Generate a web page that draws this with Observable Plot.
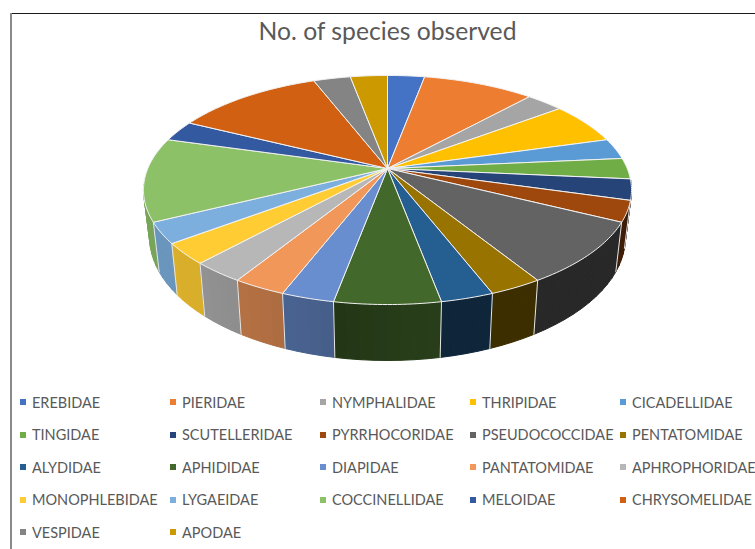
<!DOCTYPE html>
<html>
<head>
<meta charset="utf-8">
<script src="https://cdn.jsdelivr.net/npm/d3@7"></script>
<script src="https://cdn.jsdelivr.net/npm/@observablehq/plot@0.6"></script>
<style>
  html, body { margin: 0; padding: 0; background: #fff; }
  #frame { position: relative; width: 755px; height: 549px; overflow: hidden; font-family: Lato, sans-serif; }
  #rule-top { position: absolute; left: 10px; top: 13px; width: 745px; height: 1px; background: #1a1a1a; }
  #rule-left { position: absolute; left: 10px; top: 13px; width: 2px; height: 536px; background: #8a8a8a; }
  #title { position: absolute; left: 0; width: 775px; top: 15px; text-align: center; font-size: 24.7px; line-height: 32px; color: #595959; }
  #chart { position: absolute; left: 0; top: 50px; }
  #legend { position: absolute; left: 20px; top: 386px; display: grid; grid-template-columns: repeat(5, 150px); grid-auto-rows: 32.5px; width: 735px; }
  .entry { display: flex; align-items: center; font-size: 14.5px; color: #595959; white-space: nowrap; }
  .swatch { width: 6px; height: 6px; margin-right: 6px; flex: none; }
</style>
</head>
<body>
<div id="frame">
  <div id="rule-top"></div>
  <div id="rule-left"></div>
  <div id="title">No. of species observed</div>
  <div id="chart"></div>
  <div id="legend"></div>
</div>
<script>
// Species counts per insect family, in pie order (clockwise from twelve o'clock).
const families = [
  "EREBIDAE", "PIERIDAE", "NYMPHALIDAE", "THRIPIDAE", "CICADELLIDAE",
  "TINGIDAE", "SCUTELLERIDAE", "PYRRHOCORIDAE", "PSEUDOCOCCIDAE", "PENTATOMIDAE",
  "ALYDIDAE", "APHIDIDAE", "DIAPIDAE", "PANTATOMIDAE", "APHROPHORIDAE",
  "MONOPHLEBIDAE", "LYGAEIDAE", "COCCINELLIDAE", "MELOIDAE", "CHRYSOMELIDAE",
  "VESPIDAE", "APODAE"
];
const speciesCounts = [1, 3, 1, 2, 1, 1, 1, 1, 3, 1, 1, 2, 1, 1, 1, 1, 1, 4, 1, 4, 1, 1];
const palette = [
  "#4472c4", "#ed7d31", "#a5a5a5", "#ffc000", "#5b9bd5",
  "#70ad47", "#264478", "#9e480e", "#636363", "#997300",
  "#255e91", "#43682b", "#698ed0", "#f1975a", "#b7b7b7",
  "#ffcd33", "#7cafdd", "#8cc168", "#335aa1", "#d26012",
  "#848484", "#cc9a00"
];

// Perspective view of the disc: k tilts the far edge away from the viewer.
const view = {
  k: 0.1877, cx: 387,
  top: { cy: 118, rx: 239.7, ry: 110.5 },
  base: { cy: 163.5, rx: 233.7, ry: 119 }
};
const project = (deg, plane) => {
  const t = deg * Math.PI / 180;
  const w = 1 + view.k * Math.cos(t);
  return { x: view.cx + plane.rx * Math.sin(t) / w, y: plane.cy - plane.ry * Math.cos(t) / w };
};

// How much light each part of the side wall receives, by angle around the pie.
const wallLight = d3.scaleLinear()
  .domain([100, 169.3, 169.5, 190.5, 190.7, 201, 201.2, 211.7, 211.9, 222.3, 222.5, 290])
  .range([0.40, 0.40, 0.60, 0.52, 0.66, 0.70, 0.72, 0.75, 0.77, 0.80, 0.85, 0.86])
  .clamp(true);

const total = d3.sum(speciesCounts);
const slices = [];
let running = 0;
families.forEach((family, i) => {
  const start = running / total * 360;
  running += speciesCounts[i];
  slices.push({ family, color: palette[i], start, end: running / total * 360 });
});

const arcAngles = (a, b, step) => {
  const n = Math.max(1, Math.ceil((b - a) / step));
  return d3.range(n + 1).map(i => a + (b - a) * i / n);
};

// The top face: one closed outline per family.
const facePoints = slices.flatMap(s => [
  { family: s.family, x: view.cx, y: view.top.cy },
  ...arcAngles(s.start, s.end, 1).map(d => ({ family: s.family, ...project(d, view.top) })),
  { family: s.family, x: view.cx, y: view.top.cy }
]);

// The side wall: narrow closed strips between the rim and the base, shaded by angle.
const visibleFrom = 96, visibleTo = 262;
const wallStrips = slices.flatMap(s => {
  const a = Math.max(s.start, visibleFrom), b = Math.min(s.end, visibleTo);
  if (b <= a) return [];
  return d3.pairs(arcAngles(a, b, 3)).map(([p, q]) => {
    const mid = (p + q) / 2;
    const c = d3.rgb(s.color), l = wallLight(mid);
    return {
      depth: -Math.cos(mid * Math.PI / 180),
      id: `${s.family}-${p}`,
      color: `rgb(${c.r * l},${c.g * l},${c.b * l})`,
      corners: [project(p, view.top), project(q, view.top), project(q, view.base), project(p, view.base), project(p, view.top)]
    };
  });
}).sort((a, b) => d3.ascending(a.depth, b.depth));
const wallPoints = wallStrips.flatMap(s => s.corners.map(c => ({ id: s.id, color: s.color, ...c })));

// Pale seams where neighbouring walls meet.
const seamAngles = slices.map(s => s.start).filter(d => d > visibleFrom && d < 250);
const seamPoints = seamAngles.flatMap(d => [
  { d, ...project(d, view.top) }, { d, ...project(d, view.base) }
]);

const chart = Plot.plot({
  width: 755,
  height: 335,
  margin: 0,
  x: { domain: [0, 755], range: [0, 755], axis: null },
  y: { domain: [0, 335], range: [0, 335], axis: null },
  color: { domain: families, range: palette },
  marks: [
    Plot.line(wallPoints, {
      x: "x", y: "y", z: "id",
      fill: { value: "color", scale: null },
      stroke: { value: "color", scale: null },
      strokeWidth: 1, strokeLinejoin: "round"
    }),
    Plot.line(seamPoints, { x: "x", y: "y", z: "d", stroke: "#e6e6e6", strokeWidth: 1 }),
    Plot.line(facePoints, {
      x: "x", y: "y", z: "family", fill: "family",
      stroke: "#f2f2f2", strokeWidth: 1, strokeLinejoin: "round"
    })
  ]
});
document.getElementById("chart").append(chart);

// Legend entries, row by row.
const legend = d3.select("#legend");
families.forEach((family, i) => {
  const entry = legend.append("div").attr("class", "entry");
  entry.append("span").attr("class", "swatch").style("background", palette[i]);
  entry.append("span").text(family);
});
</script>
</body>
</html>
